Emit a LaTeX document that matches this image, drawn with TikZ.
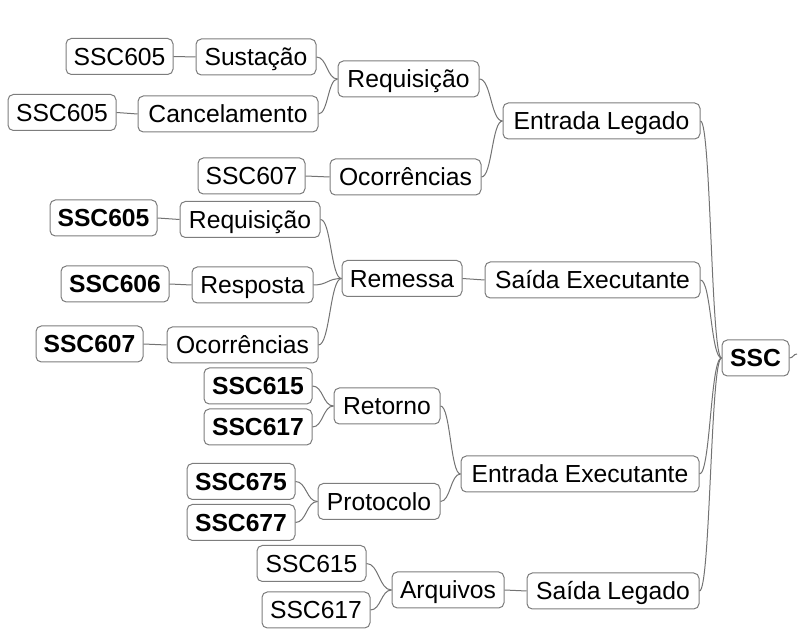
\documentclass[tikz,border=0pt]{standalone}
\usepackage{fontspec}
\setmainfont{Liberation Sans}
\usetikzlibrary{calc}
\definecolor{boxgray}{RGB}{125,125,125}
\definecolor{linkgray}{RGB}{115,115,115}
\tikzset{
  box/.style={draw=boxgray, line width=0.75pt, rounded corners=4pt, fill=white,
    minimum height=27pt, inner xsep=0pt, inner ysep=0pt,
    text height=16pt, text depth=2.8pt,
    font=\fontsize{18.5}{22}\selectfont, text=black},
  bbox/.style={box, font=\fontsize{18.5}{22}\selectfont\bfseries},
  wd/.style={minimum width=#1*0.75pt},
  link/.style={draw=linkgray, line width=0.75pt,
    to path={let \p1=(\tikztostart), \p2=(\tikztotarget), \n1={0.5*\x1+0.5*\x2} in
      .. controls (\n1,\y1) and (\n1,\y2) .. (\tikztotarget)}}
}
\begin{document}
\begin{tikzpicture}[x=0.75pt,y=-0.75pt]
\useasboundingbox (0,0) rectangle (800,630);
% root
\node[bbox, wd=67] (ssc) at (755.5,358) {SSC};
\coordinate (stub) at (797,354);
% level 1
\node[box, wd=197] (el) at (601.5,121) {Entrada Legado};
\node[box, wd=215] (se) at (592.5,280) {Saída Executante};
\node[box, wd=238] (ee) at (580,474) {Entrada Executante};
\node[box, wd=172] (sl) at (613,591) {Saída Legado};
% Entrada Legado branch
\node[box, wd=141] (req1) at (408.5,79) {Requisição};
\node[box, wd=151] (oc1) at (405.5,177) {Ocorrências};
\node[box, wd=120] (sus) at (256,57) {Sustação};
\node[box, wd=180] (can) at (228,114) {Cancelamento};
\node[box, wd=107] (sa) at (119.5,56.5) {SSC605};
\node[box, wd=108] (sb) at (62,112.5) {SSC605};
\node[box, wd=107] (sc) at (251.5,176) {SSC607};
% Saida Executante branch
\node[box, wd=120] (rem) at (402,278.5) {Remessa};
\node[box, wd=140] (req2) at (250,219.5) {Requisição};
\node[box, wd=121] (resp) at (252.5,285) {Resposta};
\node[box, wd=151] (oc2) at (242.5,345) {Ocorrências};
\node[bbox, wd=107] (b605) at (103.5,218) {SSC605};
\node[bbox, wd=108] (b606) at (115,284) {SSC606};
\node[bbox, wd=107] (b607) at (89.5,344) {SSC607};
% Entrada Executante branch
\node[box, wd=106] (ret) at (387,406) {Retorno};
\node[box, wd=122] (prot) at (379,501.5) {Protocolo};
\node[bbox, wd=108] (b615) at (258,386) {SSC615};
\node[bbox, wd=108] (b617) at (258,427) {SSC617};
\node[bbox, wd=108] (b675) at (241,481.5) {SSC675};
\node[bbox, wd=108] (b677) at (241,522.5) {SSC677};
% Saida Legado branch
\node[box, wd=112] (arq) at (448,590) {Arquivos};
\node[box, wd=109] (n615) at (311.5,563.5) {SSC615};
\node[box, wd=108] (n617) at (316,610) {SSC617};
% connectors
\draw[link] (el.east) to (ssc.west);
\draw[link] (se.east) to (ssc.west);
\draw[link] (ee.east) to (ssc.west);
\draw[link] (sl.east) to (ssc.west);
\draw[link] (ssc.east) to (stub);
\draw[link] (req1.east) to (el.west);
\draw[link] (oc1.east) to (el.west);
\draw[link] (sus.east) to (req1.west);
\draw[link] (can.east) to (req1.west);
\draw[link] (sa.east) to (sus.west);
\draw[link] (sb.east) to (can.west);
\draw[link] (sc.east) to (oc1.west);
\draw[link] (rem.east) to (se.west);
\draw[link] (req2.east) to (rem.west);
\draw[link] (resp.east) to (rem.west);
\draw[link] (oc2.east) to (rem.west);
\draw[link] (b605.east) to (req2.west);
\draw[link] (b606.east) to (resp.west);
\draw[link] (b607.east) to (oc2.west);
\draw[link] (ret.east) to (ee.west);
\draw[link] (prot.east) to (ee.west);
\draw[link] (b615.east) to (ret.west);
\draw[link] (b617.east) to (ret.west);
\draw[link] (b675.east) to (prot.west);
\draw[link] (b677.east) to (prot.west);
\draw[link] (arq.east) to (sl.west);
\draw[link] (n615.east) to (arq.west);
\draw[link] (n617.east) to (arq.west);
\end{tikzpicture}
\end{document}
